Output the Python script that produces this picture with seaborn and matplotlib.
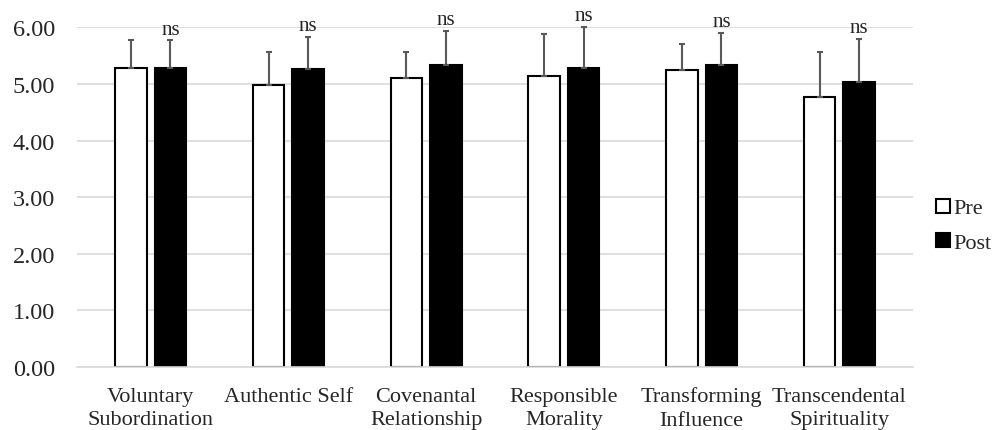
import numpy as np
import pandas as pd
import matplotlib
matplotlib.use('Agg')
import matplotlib.pyplot as plt
import seaborn as sns

categories = ['Voluntary\nSubordination', 'Authentic Self', 'Covenantal\nRelationship',
              'Responsible\nMorality', 'Transforming\nInfluence', 'Transcendental\nSpirituality']
pre_mean  = [5.28, 4.98, 5.11, 5.15, 5.24, 4.78]
pre_sd    = [0.50, 0.58, 0.46, 0.73, 0.47, 0.78]
post_mean = [5.28, 5.27, 5.34, 5.28, 5.34, 5.03]
post_sd   = [0.49, 0.57, 0.60, 0.73, 0.56, 0.77]
sig_labels = ['ns'] * 6
times = ['Pre', 'Post']

df = pd.DataFrame({
    'category': categories * 2,
    'time': ['Pre'] * 6 + ['Post'] * 6,
    'mean': pre_mean + post_mean,
})
sds = {'Pre': pre_sd, 'Post': post_sd}

sns.set_style('white')
plt.rcParams['font.family'] = ['Liberation Serif', 'DejaVu Serif']
plt.rcParams['font.size'] = 16

fig = plt.figure(figsize=(9.94, 4.31), dpi=100)
ax = fig.add_axes([0.0775, 0.146, 0.841, 0.788])

sns.barplot(data=df, x='category', y='mean', hue='time', hue_order=times,
            palette={'Pre': 'white', 'Post': 'black'}, edgecolor='black',
            linewidth=1.5, width=0.574, gap=0.2, errorbar=None, ax=ax)

# upper-only error bars (Excel style)
for cont, t in zip(ax.containers, times):
    xs = [b.get_x() + b.get_width() / 2 for b in cont]
    ys = [b.get_height() for b in cont]
    ax.errorbar(xs, ys, yerr=[np.zeros(len(ys)), sds[t]], fmt='none',
                ecolor='#595959', elinewidth=1.5, capsize=2.5, capthick=1.5,
                clip_on=False, zorder=3)
    if t == 'Post':
        for x, y, s, lab in zip(xs, ys, sds[t], sig_labels):
            ax.annotate(lab, (x, y + s), xytext=(0, 5), textcoords='offset points',
                        ha='center', va='baseline', fontsize=15,
                        annotation_clip=False)

ax.set_ylim(0, 6)
ax.set_yticks(np.arange(0, 7, 1))
ax.set_yticklabels([f'{v:.2f}' for v in np.arange(0, 7, 1)])
ax.yaxis.grid(True, color='#d9d9d9', linewidth=1.2)
ax.set_axisbelow(True)
ax.set_xlabel('')
ax.set_ylabel('')
ax.tick_params(axis='x', length=0, labelsize=16, pad=14)
ax.tick_params(axis='y', length=0, labelsize=17.5, pad=16)
for s in ['top', 'right', 'left']:
    ax.spines[s].set_visible(False)
ax.spines['bottom'].set_color('#d9d9d9')
ax.spines['bottom'].set_linewidth(1.2)
for lab in ax.get_xticklabels():
    lab.set_linespacing(1.3)

ax.legend(loc='center left', bbox_to_anchor=(0.942, 0.474),
          bbox_transform=fig.transFigure, frameon=False, fontsize=16,
          handlelength=0.6, handleheight=0.6, handletextpad=0.15,
          labelspacing=0.65, borderpad=0, borderaxespad=0)

plt.savefig('out.png', dpi=100)
plt.close()
